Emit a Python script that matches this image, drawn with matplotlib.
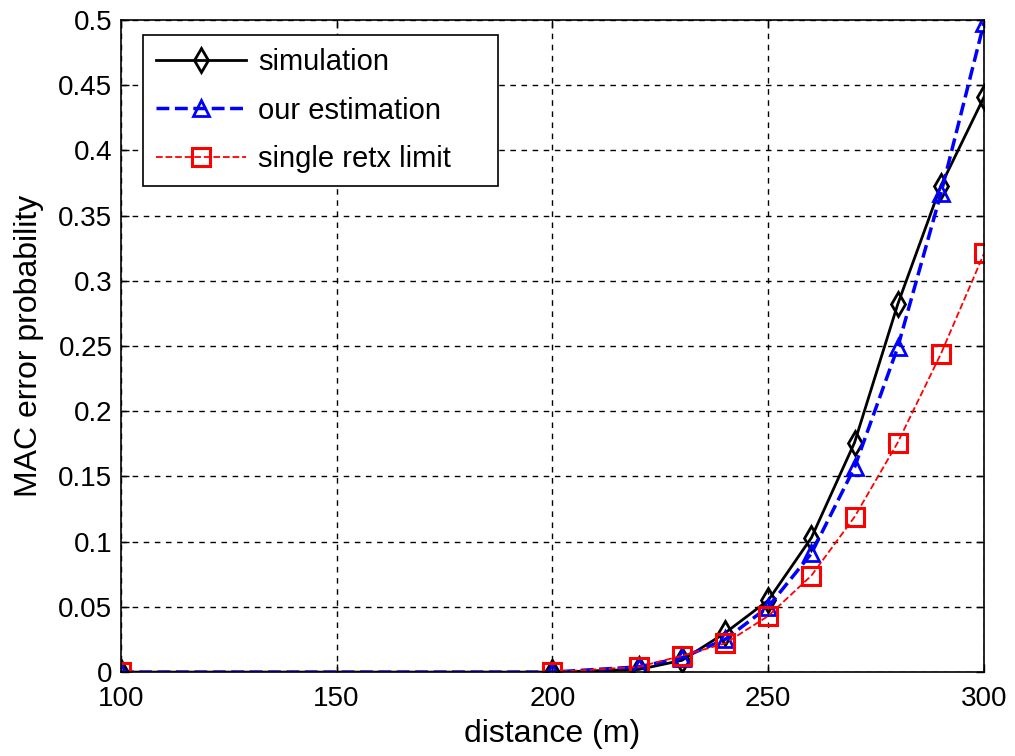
import matplotlib
matplotlib.use('Agg')
import matplotlib.pyplot as plt

plt.rcParams['font.family'] = ['Liberation Sans', 'DejaVu Sans']

distance = [100, 200, 220, 230, 240, 250, 260, 270, 280, 290, 300]
simulation = [0, 0, 0.002, 0.009, 0.030, 0.055, 0.103, 0.176, 0.282, 0.373, 0.441]
estimation = [0, 0, 0.004, 0.011, 0.025, 0.050, 0.091, 0.157, 0.249, 0.367, 0.498]
single_retx = [0, 0, 0.004, 0.0125, 0.022, 0.043, 0.074, 0.119, 0.176, 0.244, 0.321]

fig = plt.figure(figsize=(10.15, 7.56), dpi=100)
ax = fig.add_axes([0.119, 0.111, 0.8505, 0.8625])

ax.plot(distance, simulation, color='black', linestyle='-', linewidth=2,
        marker='d', markersize=12, markerfacecolor='none', markeredgewidth=2,
        label='simulation')
ax.plot(distance, estimation, color='blue', linestyle='--', linewidth=2.5,
        marker='^', markersize=12, markerfacecolor='none', markeredgewidth=2,
        label='our estimation')
ax.plot(distance, single_retx, color='red', linestyle='--', linewidth=1.3,
        marker='s', markersize=13, markerfacecolor='none', markeredgewidth=2.2,
        label='single retx limit')

ax.set_xlim(100, 300)
ax.set_ylim(0, 0.5)
ax.set_xticks([100, 150, 200, 250, 300])
ax.set_yticks([0, 0.05, 0.1, 0.15, 0.2, 0.25, 0.3, 0.35, 0.4, 0.45, 0.5])
ax.set_yticklabels(['0', '0.05', '0.1', '0.15', '0.2', '0.25', '0.3', '0.35', '0.4', '0.45', '0.5'])
ax.tick_params(direction='in', top=True, right=True, labelsize=20, length=6, width=1)
ax.tick_params(axis='x', pad=10)
ax.tick_params(axis='y', pad=6)
ax.grid(True, color='black', linestyle=(0, (4, 4)), linewidth=1)
for s in ax.spines.values():
    s.set_linewidth(1.2)

ax.set_xlabel('distance (m)', fontsize=23, labelpad=5)
ax.set_ylabel('MAC error probability', fontsize=23, labelpad=10)

leg = ax.legend(loc='upper left', fontsize=21, fancybox=False, framealpha=1,
                edgecolor='black', handlelength=3.1, borderpad=0.45,
                labelspacing=0.7, handletextpad=0.4, borderaxespad=0,
                mode='expand', bbox_to_anchor=(0.0255, 0.5, 0.411, 0.477))
leg.get_frame().set_linewidth(1.2)

fig.savefig('out.png', dpi=100)
